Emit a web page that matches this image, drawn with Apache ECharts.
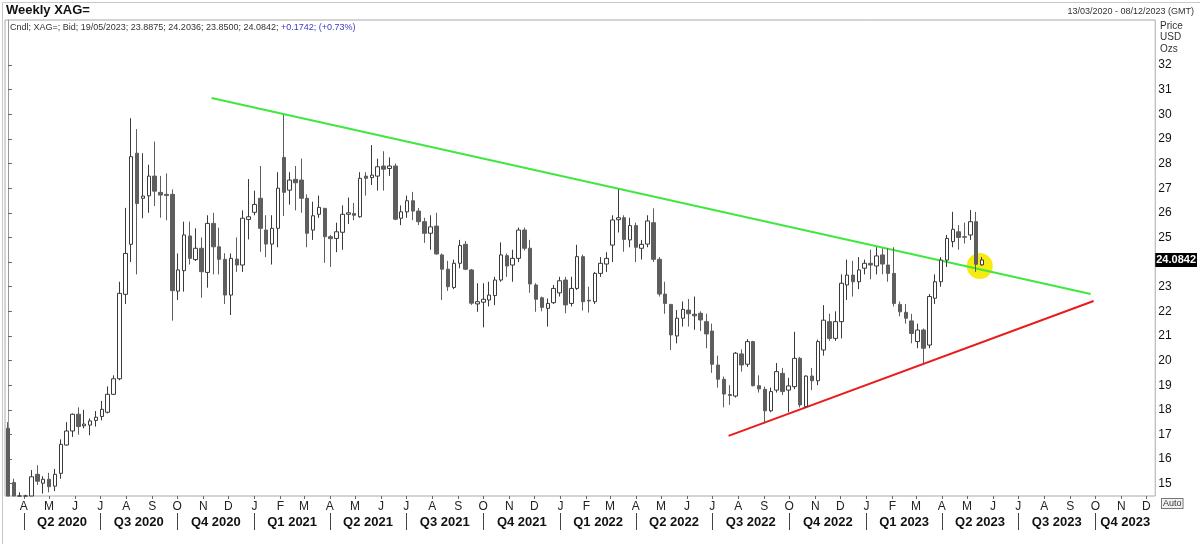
<!DOCTYPE html>
<html><head><meta charset="utf-8">
<script src="https://cdn.jsdelivr.net/npm/echarts@6/dist/echarts.min.js"></script>
<style>html,body{margin:0;padding:0;background:#fff}#c{width:1200px;height:544px}</style>
</head><body><div id="c"></div>
<script>
// ---------- DATA ----------
const startDate = [2020, 2, 13];      // first weekly bar (Friday 13/03/2020)
const weekCount = 196;                // 13/03/2020 .. 08/12/2023
// weekly candles: [open, high, low, close]
const candles = [
[17.25,17.5,14.0,14.5],[15.05,15.2,11.6,12.5],[12.6,14.65,12.2,14.1],[14.2,14.55,13.8,14.35],[14.3,15.55,14.2,15.28],
[15.38,15.75,14.95,15.1],[15.02,15.3,14.6,15.18],[15.18,15.44,14.65,14.88],[14.9,15.6,14.7,15.38],[15.42,16.8,15.2,16.6],
[16.57,17.5,16.55,17.14],[17.14,17.85,16.9,17.82],[17.82,18.1,16.99,17.32],[17.35,18.0,17.25,17.42],[17.38,17.65,16.97,17.55],
[17.57,17.95,17.32,17.7],[17.73,18.36,17.57,18.02],[17.9,18.95,17.85,18.63],[18.63,19.4,18.6,19.26],[19.26,23.2,19.2,22.73],
[22.69,26.2,22.3,24.35],[24.72,29.84,24.0,28.28],[28.42,29.4,23.5,26.38],[26.59,28.42,25.78,26.68],[26.69,27.95,26.0,27.49],
[27.49,28.89,26.28,26.88],[26.83,27.5,25.8,26.72],[26.75,27.6,25.7,26.7],[26.75,26.95,21.62,22.84],[22.82,24.35,22.46,23.68],
[23.65,25.64,22.8,25.1],[25.06,25.64,23.9,24.15],[24.1,25.37,24.04,24.56],[24.56,25.0,22.55,23.61],[23.58,25.9,22.96,25.57],
[25.57,26.0,23.5,24.62],[24.62,25.4,23.5,24.11],[24.11,24.36,22.3,22.66],[22.66,24.35,21.85,24.15],[24.12,25.0,23.6,23.88],
[23.88,26.1,23.6,25.78],[25.73,27.37,24.92,25.84],[26.02,26.9,25.9,26.34],[26.59,27.9,24.42,25.37],[25.3,25.9,24.2,24.73],
[24.73,25.9,23.9,25.37],[25.37,27.65,24.6,27.0],[28.25,29.97,25.87,26.83],[26.92,27.65,26.33,27.33],[27.36,27.9,26.1,27.22],
[27.33,28.2,26.0,26.59],[26.59,26.75,24.6,25.17],[25.3,26.45,24.9,25.88],[25.94,26.7,25.8,26.22],[26.18,26.2,23.97,25.03],
[25.03,25.1,23.8,24.95],[24.96,25.6,24.4,25.23],[25.21,26.3,24.5,25.94],[25.94,26.62,25.55,26.0],[25.97,26.4,25.7,25.9],
[25.84,27.65,25.8,27.4],[27.49,27.65,26.7,27.4],[27.43,28.75,27.13,27.53],[27.49,28.2,26.9,27.87],[27.9,28.5,26.9,27.77],
[27.8,28.25,27.5,27.9],[27.9,28.0,25.7,25.74],[25.78,26.3,25.5,26.04],[26.04,26.7,25.8,26.49],[26.49,26.85,25.7,26.07],
[26.07,26.2,25.5,25.64],[25.64,25.8,24.78,25.17],[25.17,25.9,24.5,25.43],[25.46,26.0,24.3,24.33],[24.29,24.35,22.46,23.71],
[23.71,24.05,22.83,23.0],[22.97,24.1,22.9,23.95],[23.95,24.9,23.75,24.67],[24.72,24.85,23.67,23.71],[23.68,23.72,22.26,22.33],
[22.3,23.14,21.98,22.39],[22.37,23.14,21.35,22.49],[22.46,23.2,22.2,22.66],[22.64,23.4,22.25,23.27],[23.27,24.8,23.2,24.29],
[24.26,24.35,23.4,23.84],[23.88,24.5,23.2,24.15],[24.15,25.4,24.0,25.3],[25.3,25.4,24.47,24.56],[24.56,24.9,22.75,23.11],
[23.07,23.14,21.98,22.49],[22.55,22.6,22.0,22.16],[22.12,22.52,21.38,22.32],[22.35,23.07,22.3,22.93],[22.75,23.4,22.6,23.24],
[23.27,23.4,21.92,22.26],[22.32,23.4,22.2,22.93],[22.93,24.7,22.87,24.22],[24.22,24.3,22.03,22.39],[22.45,23.0,21.95,22.42],
[22.39,23.6,22.3,23.54],[23.54,24.2,23.4,23.95],[23.92,24.4,23.6,24.15],[24.69,25.9,24.0,25.71],[25.72,26.95,25.2,25.8],
[25.8,25.9,24.42,24.92],[24.9,25.8,24.6,25.48],[25.48,25.6,24.0,24.6],[24.56,24.9,24.1,24.72],[24.73,25.9,24.6,25.67],
[25.6,26.18,24.0,24.11],[24.11,24.2,22.6,22.7],[22.7,23.2,21.9,22.32],[22.28,22.3,20.43,21.04],[21.0,22.05,20.7,21.72],
[21.72,22.4,21.38,22.08],[22.05,22.5,21.38,21.9],[21.82,22.6,21.25,21.88],[21.92,22.0,21.2,21.65],[21.58,21.9,20.5,21.08],
[21.2,21.5,19.5,19.85],[19.82,20.2,18.9,19.24],[19.24,19.35,18.1,18.64],[18.62,19.0,18.2,18.58],[18.56,20.35,18.5,20.3],
[20.27,20.45,19.55,19.82],[19.85,20.87,19.74,20.77],[20.77,20.8,18.95,18.98],[18.98,19.4,18.7,18.85],[18.83,18.94,17.45,17.96],
[17.96,18.9,17.9,18.74],[18.8,19.9,18.7,19.55],[19.48,19.7,18.6,18.74],[18.8,19.3,17.9,18.97],[18.94,21.17,18.84,20.09],
[20.09,20.15,18.1,18.2],[18.13,19.4,18.1,19.37],[19.37,19.7,18.8,19.18],[19.18,20.85,19.0,20.77],[20.43,22.25,20.2,21.64],
[21.58,21.9,20.8,20.9],[20.9,22.0,20.8,21.58],[21.58,23.5,20.9,23.14],[23.07,24.1,22.46,23.47],[23.47,24.05,22.6,23.2],
[23.2,24.2,22.9,23.68],[23.75,24.1,23.5,23.95],[23.95,24.5,23.3,23.88],[23.84,24.6,23.5,24.25],[24.29,24.55,23.5,23.92],
[23.88,24.56,23.2,23.54],[23.54,24.6,22.2,22.32],[22.28,22.4,21.8,21.98],[21.96,22.3,21.5,21.72],[21.61,21.9,20.7,21.1],
[20.77,21.5,20.5,21.24],[21.24,21.3,19.89,20.5],[20.63,22.7,20.5,22.6],[22.53,23.5,22.3,23.2],[23.2,24.2,23.0,24.08],
[24.08,25.1,23.8,24.96],[24.83,26.04,24.6,25.33],[25.23,25.5,24.5,25.0],[25.03,25.6,24.75,25.01],[25.1,26.11,24.9,25.64],
[25.64,26.04,23.6,23.91],[23.8875,24.2036,23.85,24.0842]
];
const priceTicks = [15,16,17,18,19,20,21,22,23,24,25,26,27,28,29,30,31,32];
const monthLetters = ['J','F','M','A','M','J','J','A','S','O','N','D'];
const firstMonth = [2020, 3];   // April 2020
const lastMonth = [2023, 11];   // December 2023
// trend lines: [week index, price]
const greenTrend = [[34.7, 30.66], [184.5, 22.70]];
const redTrend = [[122.8, 16.94], [185.0, 22.42]];
const highlight = [[165.6, 23.84]];
const yMin = 14.5, yMax = 33.83;

// ---------- BUILD ----------
const DAY = 86400000;
const t0 = Date.UTC(startDate[0], startDate[1], startDate[2]);
const pad = n => (n < 10 ? '0' : '') + n;
const categories = [];
for (let i = 0; i < weekCount; i++) {
  const d = new Date(t0 + i * 7 * DAY);
  categories.push(pad(d.getUTCDate()) + '/' + pad(d.getUTCMonth() + 1) + '/' + d.getUTCFullYear());
}
const weekPos = (y, m) => (Date.UTC(y, m, 1) - t0) / (7 * DAY);
const monthVals = [], monthMap = {};
const qStarts = [], qNames = [];
for (let y = firstMonth[0], m = firstMonth[1]; y < lastMonth[0] || (y === lastMonth[0] && m <= lastMonth[1]); ) {
  const p = weekPos(y, m);
  monthVals.push(p); monthMap[p.toFixed(3)] = monthLetters[m];
  if (m % 3 === 0) { qStarts.push(p); qNames.push('Q' + (m / 3 + 1) + ' ' + y); }
  m++; if (m > 11) { m = 0; y++; }
}
const axisEnd = weekCount - 0.5;
const qMids = [], qMap = {};
qStarts.forEach((s, k) => {
  const e = k + 1 < qStarts.length ? qStarts[k + 1] : axisEnd;
  const mid = (s + e) / 2; qMids.push(mid); qMap[mid.toFixed(3)] = qNames[k];
});

const last = candles[candles.length - 1];
const prevClose = candles[candles.length - 2][3];
const chg = last[3] - prevClose;
const fmt4 = v => v.toFixed(4);
const legendText = '{a|Cndl; XAG=; Bid; ' + categories[candles.length - 1] + '; ' +
  last.map(fmt4).join('; ') + '; }{b|' + (chg >= 0 ? '+' : '') + fmt4(chg) + '; (' + (chg >= 0 ? '+' : '') +
  (chg / prevClose * 100).toFixed(2) + '%)}';

// the plot window cuts the bars at the lower edge of the price scale
const clampY = v => Math.min(yMax, Math.max(yMin, v));

const FONT = '"Liberation Sans", Arial, sans-serif';
const chart = echarts.init(document.getElementById('c'));
chart.setOption({
  animation: false,
  backgroundColor: '#fff',
  textStyle: { fontFamily: FONT },
  title: [
    { text: 'Weekly XAG=', left: 6, top: 4, padding: 0, textStyle: { fontSize: 13, fontWeight: 'bold', color: '#111', fontFamily: FONT } },
    { text: legendText, left: 10, top: 23, padding: 0, textStyle: { fontSize: 9, fontWeight: 'normal', fontFamily: FONT,
        rich: { a: { fontSize: 9, fontWeight: 'normal', color: '#333', fontFamily: FONT },
                b: { fontSize: 9, fontWeight: 'normal', color: '#3b3bc4', fontFamily: FONT } } } },
    { text: categories[0] + ' - ' + categories[weekCount - 1] + ' (GMT)', right: 6, top: 7, padding: 0,
      textStyle: { fontSize: 9, fontWeight: 'normal', color: '#333', fontFamily: FONT } },
    { text: 'Price\nUSD\nOzs', left: 1160, top: 20, padding: 0,
      textStyle: { fontSize: 10, fontWeight: 'normal', color: '#333', lineHeight: 11.5, fontFamily: FONT } }
  ],
  graphic: [
    { type: 'rect', left: 0, top: 0, shape: { width: 1199, height: 543 }, style: { fill: 'none', stroke: '#c8c8c8', lineWidth: 1 }, silent: true },
    { type: 'text', left: 1161, top: 498, style: { text: 'Auto', fontSize: 9, fill: '#333', fontFamily: FONT,
      borderColor: '#777', borderWidth: 1, padding: [0, 1], backgroundColor: '#f2f2f2' } }
  ],
  grid: { left: 5, right: 42.5, top: 20, bottom: 48, show: true, borderColor: '#aaa', borderWidth: 1, backgroundColor: '#fff' },
  xAxis: [
    { type: 'category', data: categories, boundaryGap: true, show: false },
    { type: 'value', min: -0.5, max: axisEnd, position: 'bottom',
      axisLine: { show: false }, splitLine: { show: false },
      axisTick: { show: true, customValues: monthVals, length: 3, lineStyle: { color: '#666' } },
      axisLabel: { customValues: monthVals, formatter: v => monthMap[v.toFixed(3)] || '', fontSize: 12, color: '#222', margin: 5, fontFamily: FONT } },
    { type: 'value', min: -0.5, max: axisEnd, position: 'bottom', offset: 17,
      axisLine: { show: false }, splitLine: { show: false },
      axisTick: { show: true, customValues: qStarts, length: 17, lineStyle: { color: '#444' } },
      axisLabel: { customValues: qMids, formatter: v => qMap[v.toFixed(3)] || '', fontSize: 13, fontWeight: 'bold', color: '#111', margin: 3, fontFamily: FONT } }
  ],
  yAxis: [
    { type: 'value', position: 'right', min: yMin, max: yMax, scale: true,
      axisLine: { show: true, lineStyle: { color: '#999' } }, splitLine: { show: false },
      axisTick: { show: true, customValues: priceTicks, length: 4, lineStyle: { color: '#666' } },
      axisLabel: { customValues: priceTicks, fontSize: 12, color: '#111', margin: 3, fontFamily: FONT } },
    { type: 'value', position: 'right', min: yMin, max: yMax, scale: true,
      axisLine: { show: false }, axisTick: { show: false }, splitLine: { show: false },
      axisLabel: { customValues: [last[3]], formatter: v => v.toFixed(4), fontSize: 11, fontWeight: 'bold', color: '#fff',
        backgroundColor: '#000', padding: [2, 1, 1, 1], margin: 0, fontFamily: FONT } }
  ],
  series: [
    { type: 'scatter', xAxisIndex: 1, yAxisIndex: 0, data: highlight, symbolSize: 26, silent: true, z: 1,
      itemStyle: { color: '#f6ea12', opacity: 1 } },
    { type: 'line', xAxisIndex: 1, yAxisIndex: 0, data: greenTrend, symbol: 'none', silent: true, z: 2,
      lineStyle: { color: '#3fe83f', width: 2 } },
    { type: 'line', xAxisIndex: 1, yAxisIndex: 0, data: redTrend, symbol: 'none', silent: true, z: 2,
      lineStyle: { color: '#ea1b1b', width: 2 } },
    { type: 'candlestick', xAxisIndex: 0, yAxisIndex: 0, clip: true, z: 3, barWidth: 4,
      data: candles.map(c => [clampY(c[0]), clampY(c[3]), clampY(c[2]), clampY(c[1])]),
      itemStyle: { color: '#ffffff', color0: '#5e5e5e', borderColor: '#3a3a3a', borderColor0: '#5e5e5e', borderWidth: 1 } }
  ]
});
</script></body></html>
